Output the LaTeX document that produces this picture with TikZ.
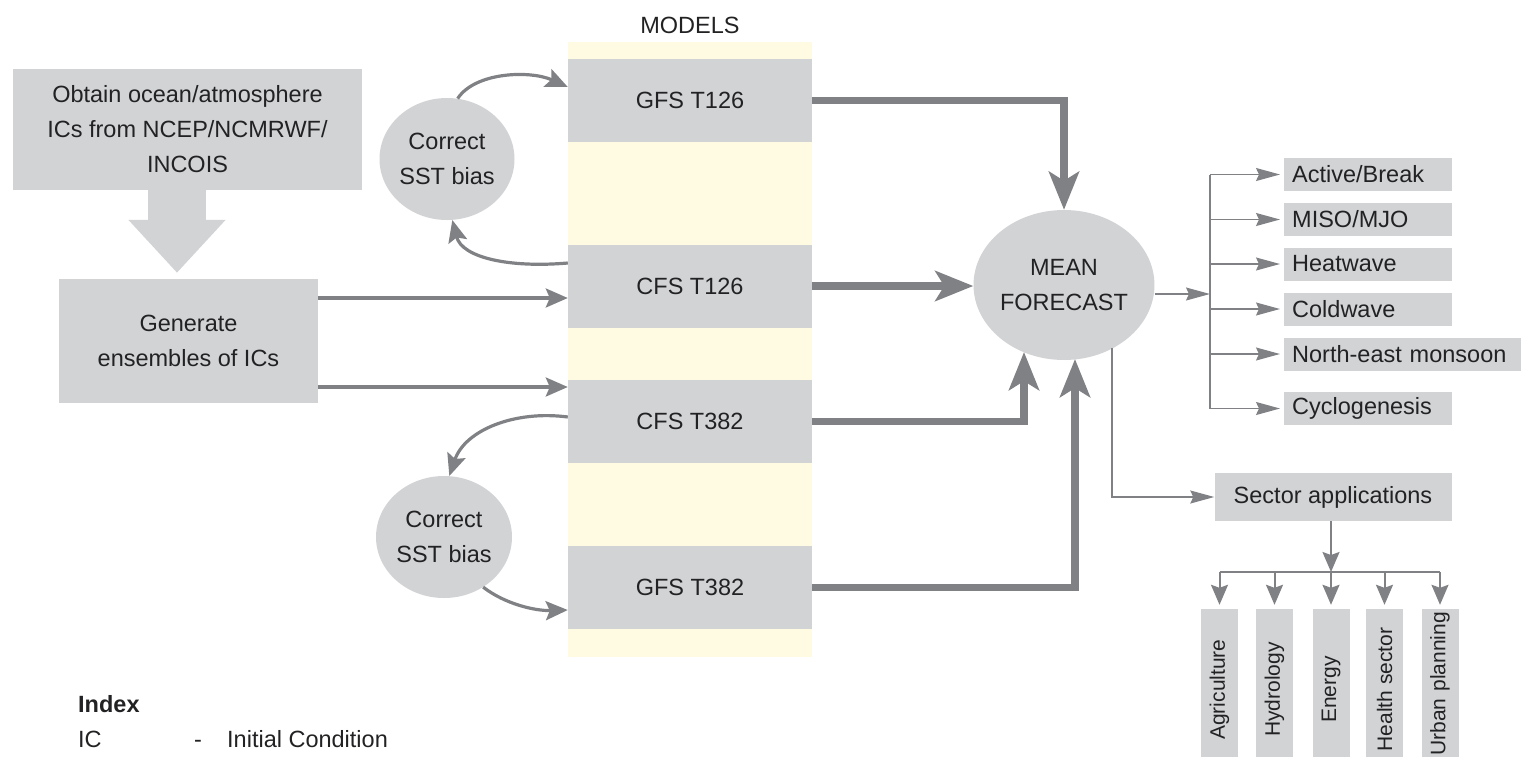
\documentclass[tikz,border=0pt]{standalone}
\usepackage{fontspec}
\setmainfont{Liberation Sans}
\usetikzlibrary{arrows.meta,shapes.geometric,calc}
\definecolor{boxgray}{HTML}{D2D3D5}
\definecolor{arrowgray}{HTML}{808184}
\definecolor{modelbg}{HTML}{FEFBE2}
\definecolor{ink}{HTML}{222224}
\begin{document}
\begin{tikzpicture}[x=1pt,y=-1pt,
  every node/.style={text=ink, font=\fontsize{23.5}{35}\selectfont},
  box/.style={fill=boxgray, inner sep=0pt, align=center},
  modelbox/.style={box, minimum width=244pt, minimum height=83pt},
  blob/.style={ellipse, fill=boxgray, inner sep=0pt, align=center},
  outbox/.style={fill=boxgray, inner xsep=8pt, inner ysep=0pt, minimum height=33pt,
                 text width=152pt, align=left, anchor=west},
  sectbox/.style={fill=boxgray, inner sep=0pt, minimum width=161pt, minimum height=37pt,
                  rotate=90, font=\fontsize{21}{25}\selectfont},
  plain/.style={inner sep=0pt, anchor=base west},
  heavy arrow/.style={draw=arrowgray, line width=7.5pt, line join=miter,
                      -{Stealth[length=38pt,width=30pt,inset=9pt]}},
  mid arrow/.style={draw=arrowgray, line width=3.2pt,
                    -{Stealth[length=22pt,width=19pt,inset=4pt]}},
  thin line/.style={draw=arrowgray, line width=1.4pt},
  thin arrow/.style={thin line, -{Stealth[length=24pt,width=13pt,inset=3pt]}},
  sect line/.style={draw=arrowgray, line width=2pt},
  sect arrow/.style={sect line, -{Stealth[length=20pt,width=17pt,inset=3pt]}}
]
\useasboundingbox (0,0) rectangle (1521,756);

% inputs
\node[box, minimum width=349pt, minimum height=121pt] (obtain) at (187.5,129.5)
  {Obtain ocean/atmosphere\\ICs from NCEP/NCMRWF/\\INCOIS};
\node[box, minimum width=259pt, minimum height=124pt] (gen) at (188.5,341)
  {Generate\\ensembles of ICs};
\coordinate (ax) at (177,0);
\draw[boxgray, line width=58pt, -{Triangle[length=53pt,width=94pt]}]
  (obtain.south -| ax) -- ($(gen.north -| ax)+(0,-6)$);

% model column
\node[fill=modelbg, inner sep=0pt, minimum width=244pt, minimum height=615pt] (modelcol) at (690,349.5) {};
\node[inner sep=0pt, anchor=base] (modelslabel) at (690,33) {MODELS};
\node[modelbox] (gfs1) at (690,100.5) {GFS T126};
\node[modelbox] (cfs1) at (690,286) {CFS T126};
\node[modelbox] (cfs2) at (690,421.5) {CFS T382};
\node[modelbox] (gfs2) at (690,587.5) {GFS T382};

% SST bias correction
\node[blob, minimum width=135pt, minimum height=122pt] (corr1) at (447,159) {Correct\\SST bias};
\node[blob, minimum width=136pt, minimum height=122pt] (corr2) at (444,537) {Correct\\SST bias};

\coordinate (c1end) at ($(gfs1.west)+(0,-13.5)$);
\coordinate (c2start) at ($(cfs1.west)+(0,-23)$);
\coordinate (c3start) at ($(cfs2.west)+(0,-4.5)$);
\coordinate (c4end) at ($(gfs2.west)+(0,22.5)$);
\draw[mid arrow] (corr1.80) .. controls (475,72) and (530,70) .. (c1end);
\draw[mid arrow] (c2start) .. controls (510,268) and (462,258) .. (corr1.275);
\draw[mid arrow] (c3start) .. controls (515,410) and (465,430) .. (corr2.85);
\draw[mid arrow] (corr2.-52) .. controls (505,604) and (535,611) .. (c4end);

% ensembles into models
\coordinate (g1) at ($(gen.east)+(0,-43)$);
\coordinate (g2) at ($(gen.east)+(0,46)$);
\draw[mid arrow] (g1) -- (g1 -| cfs1.west);
\draw[mid arrow] (g2) -- (g2 -| cfs2.west);

% ensemble mean
\node[blob, minimum width=177pt, minimum height=150pt] (mean) at (1064,285) {MEAN\\FORECAST};
\coordinate (m3) at (1024,352);
\coordinate (m4) at (1075,359);
\draw[heavy arrow] (gfs1.east) -| (mean.north);
\draw[heavy arrow] (cfs1.east) -- (cfs1.east -| mean.west);
\draw[heavy arrow] (cfs2.east) -| (m3);
\draw[heavy arrow] (gfs2.east) -| (m4);

% forecast products
\coordinate (trunk) at (1210,0);
\node[outbox] (o1) at (1284,174.5) {Active/Break};
\node[outbox] (o2) at (1284,219.5) {MISO/MJO};
\node[outbox] (o3) at (1284,264) {Heatwave};
\node[outbox] (o4) at (1284,309) {Coldwave};
\node[outbox, text width=221pt] (o5) at (1284,354) {North-east monsoon};
\node[outbox] (o6) at (1284,408.5) {Cyclogenesis};
\coordinate (mout) at ($(mean.east)+(0,9)$);
\draw[thin arrow] (mout) -- (mout -| trunk);
\draw[thin line] (o1.west -| trunk) -- (o6.west -| trunk);
\foreach \o in {o1,o2,o3,o4,o5,o6}
  \draw[thin arrow, shorten >=4pt] (\o.west -| trunk) -- (\o.west);

% sector applications
\node[box, minimum width=237pt, minimum height=48pt] (sector) at (1333,497) {Sector applications};
\coordinate (mdrop) at (1112,348);
\draw[thin arrow] (mdrop) |- (sector.west);

\coordinate (bar) at (0,572);
\node[sectbox] (s1) at (1219.5,689.5) {Agriculture};
\node[sectbox] (s2) at (1274.5,689.5) {Hydrology};
\node[sectbox] (s3) at (1331,689.5) {Energy};
\node[sectbox] (s4) at (1384.5,689.5) {Health sector};
\node[sectbox, text width=155pt, inner xsep=3pt, align=right] (s5) at (1440,689.5) {Urban planning};
\draw[sect arrow] (sector.south -| s3.east) -- (s3.east |- bar);
\draw[sect line] (s1.east |- bar) -- (s5.east |- bar);
\foreach \s in {s1,s2,s3,s4,s5}
  \draw[sect arrow, shorten >=4pt] (\s.east |- bar) -- (\s.east);

% index
\node[plain, font=\fontsize{23.5}{28}\selectfont\bfseries] (idx) at (78,712) {Index};
\node[plain] (ic) at (78,747) {IC};
\node[plain] (icdash) at (194,747) {-};
\node[plain] (icdef) at (227,747) {Initial Condition};
\end{tikzpicture}
\end{document}
